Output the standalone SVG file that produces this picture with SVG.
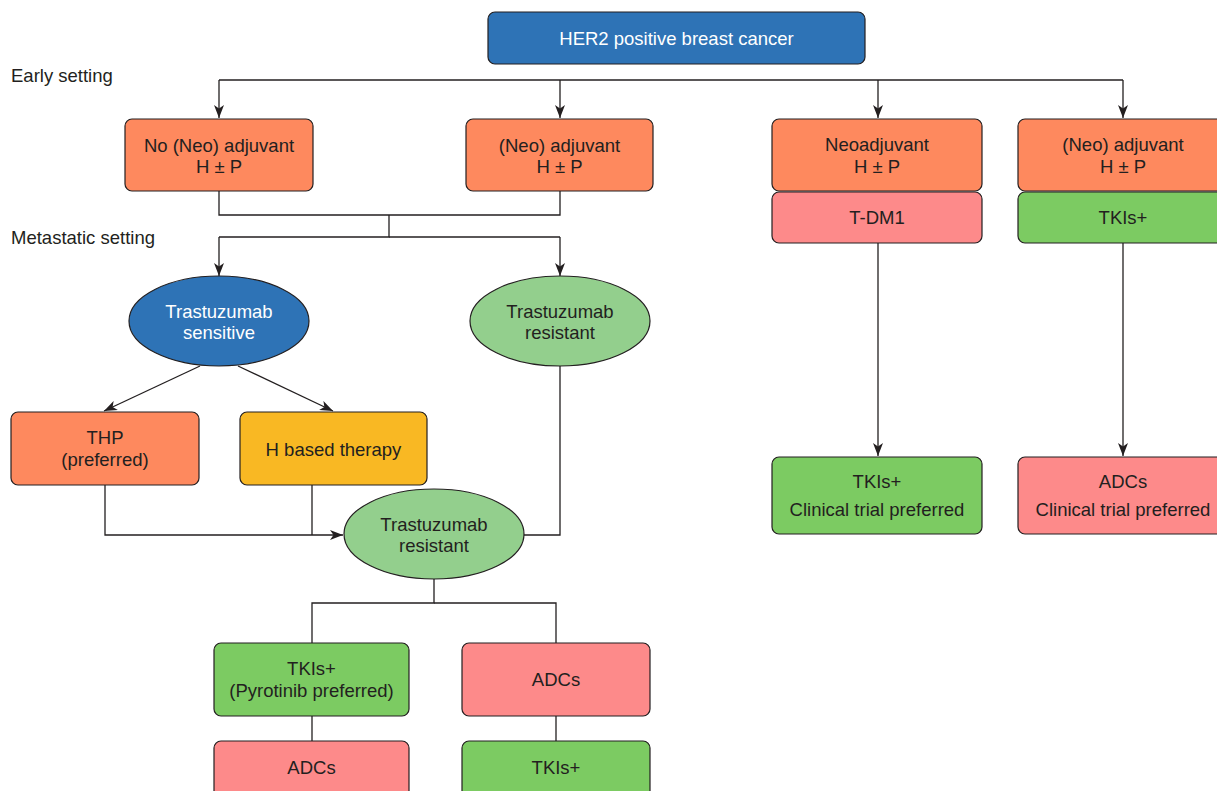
<svg xmlns="http://www.w3.org/2000/svg" width="1217" height="791" viewBox="0 0 1217 791">
<defs>
<marker id="ah" viewBox="0 0 13 10" refX="13" refY="5" markerWidth="13" markerHeight="10" markerUnits="userSpaceOnUse" orient="auto">
<path d="M0,0 L13,5 L0,10 L3.5,5 Z" fill="#231f20"/>
</marker>
<style>
text{font-family:"Liberation Sans",Arial,sans-serif;font-size:18.5px;fill:#231f20;text-anchor:middle}
.lbl{text-anchor:start}
.w{fill:#ffffff}
.n{stroke:#231f20;stroke-width:1.2}
.blue{fill:#2e73b6}
.or{fill:#fe895e}
.pk{fill:#fd8a8a}
.gr{fill:#7ccb62}
.lg{fill:#93cf8d}
.yl{fill:#f9b823}
.c{fill:none;stroke:#231f20;stroke-width:1.3}
</style>
</defs>
<text class="lbl" x="11" y="82">Early setting</text>
<text class="lbl" x="11" y="244">Metastatic setting</text>
<g id="connectors">
<path class="c" d="M219,80 H1123"/>
<path class="c" d="M219,80 V118" marker-end="url(#ah)"/>
<path class="c" d="M560,80 V118" marker-end="url(#ah)"/>
<path class="c" d="M878,80 V118" marker-end="url(#ah)"/>
<path class="c" d="M1123,80 V118" marker-end="url(#ah)"/>
<path class="c" d="M219,191 V215 H560 V191"/>
<path class="c" d="M389,215 V237 H219"/>
<path class="c" d="M389,237 H560"/>
<path class="c" d="M219,237 V276" marker-end="url(#ah)"/>
<path class="c" d="M560,237 V276" marker-end="url(#ah)"/>
<path class="c" d="M200,366 L104,411" marker-end="url(#ah)"/>
<path class="c" d="M238,366 L333,411" marker-end="url(#ah)"/>
<path class="c" d="M105,485 V535 H343" marker-end="url(#ah)"/>
<path class="c" d="M312,485 V535"/>
<path class="c" d="M560,366 V535 H524"/>
<path class="c" d="M434,579 V603 H312 V643"/>
<path class="c" d="M434,603 H556 V643"/>
<path class="c" d="M312,716 V741"/>
<path class="c" d="M556,716 V741"/>
<path class="c" d="M878,243 V456" marker-end="url(#ah)"/>
<path class="c" d="M1123,243 V456" marker-end="url(#ah)"/>
</g>
<g id="her2">
<rect class="n blue" x="488" y="12" width="377" height="52" rx="7"/>
<text class="w" x="676.5" y="45">HER2 positive breast cancer</text>
</g>
<g id="early1">
<rect class="n or" x="125" y="119" width="188" height="72" rx="7"/>
<text x="219" y="152">No (Neo) adjuvant</text>
<text x="219" y="173">H ± P</text>
</g>
<g id="early2">
<rect class="n or" x="466" y="119" width="187" height="72" rx="7"/>
<text x="559.5" y="152">(Neo) adjuvant</text>
<text x="559.5" y="173">H ± P</text>
</g>
<g id="early3">
<rect class="n or" x="772" y="119" width="210" height="72" rx="7"/>
<text x="877" y="151">Neoadjuvant</text>
<text x="877" y="173">H ± P</text>
</g>
<g id="tdm1">
<rect class="n pk" x="772" y="192" width="210" height="51" rx="7"/>
<text x="877" y="224">T-DM1</text>
</g>
<g id="early4">
<rect class="n or" x="1018" y="119" width="220" height="72" rx="7"/>
<text x="1123" y="151">(Neo) adjuvant</text>
<text x="1123" y="173">H ± P</text>
</g>
<g id="tkis-early">
<rect class="n gr" x="1018" y="192" width="220" height="51" rx="7"/>
<text x="1123" y="224">TKIs+</text>
</g>
<g id="sensitive">
<ellipse class="n blue" cx="219" cy="321" rx="90" ry="45"/>
<text class="w" x="219" y="318">Trastuzumab</text>
<text class="w" x="219" y="339">sensitive</text>
</g>
<g id="resistant1">
<ellipse class="n lg" cx="560" cy="321" rx="90" ry="45"/>
<text x="560" y="318">Trastuzumab</text>
<text x="560" y="339">resistant</text>
</g>
<g id="thp">
<rect class="n or" x="11" y="412" width="188" height="73" rx="7"/>
<text x="105" y="444">THP</text>
<text x="105" y="466">(preferred)</text>
</g>
<g id="hbased">
<rect class="n yl" x="240" y="412" width="187" height="73" rx="7"/>
<text x="333.5" y="456">H based therapy</text>
</g>
<g id="resistant2">
<ellipse class="n lg" cx="434" cy="534" rx="90" ry="45"/>
<text x="434" y="531">Trastuzumab</text>
<text x="434" y="552">resistant</text>
</g>
<g id="tkis-pyro">
<rect class="n gr" x="214" y="643" width="195" height="73" rx="7"/>
<text x="311.5" y="675">TKIs+</text>
<text x="311.5" y="697">(Pyrotinib preferred)</text>
</g>
<g id="adcs1">
<rect class="n pk" x="462" y="643" width="188" height="73" rx="7"/>
<text x="556" y="686">ADCs</text>
</g>
<g id="adcs2">
<rect class="n pk" x="214" y="741" width="195" height="70" rx="7"/>
<text x="311.5" y="774">ADCs</text>
</g>
<g id="tkis2">
<rect class="n gr" x="462" y="741" width="188" height="70" rx="7"/>
<text x="556" y="774">TKIs+</text>
</g>
<g id="tkis-trial">
<rect class="n gr" x="772" y="457" width="210" height="77" rx="7"/>
<text x="877" y="488">TKIs+</text>
<text x="877" y="516">Clinical trial preferred</text>
</g>
<g id="adcs-trial">
<rect class="n pk" x="1018" y="457" width="220" height="77" rx="7"/>
<text x="1123" y="488">ADCs</text>
<text x="1123" y="516">Clinical trial preferred</text>
</g>
</svg>
